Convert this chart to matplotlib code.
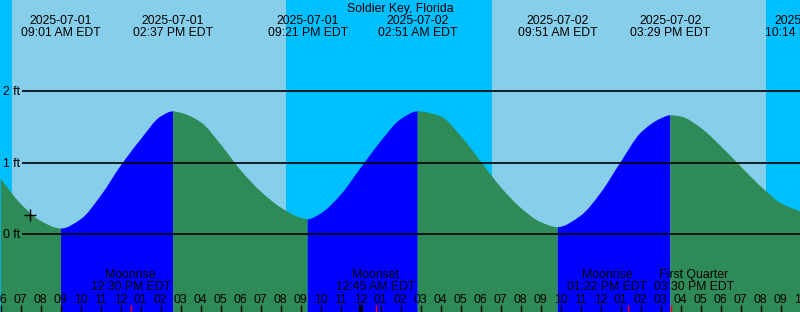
import numpy as np
import matplotlib.pyplot as plt
import matplotlib.transforms as mtransforms
from matplotlib.path import Path
from matplotlib.patches import PathPatch

plt.rcParams['font.family'] = ['Liberation Sans', 'DejaVu Sans']

title = 'Soldier Key, Florida'

# hours counted from 2025-07-01 00:00 EDT, heights in ft
hours = list(range(6, 47))
height_ft = [0.775, 0.427, 0.187, 0.081, 0.21, 0.539, 0.96, 1.328, 1.648, 1.70,
             1.57, 1.258, 0.896, 0.60, 0.375, 0.23, 0.29, 0.553, 0.93, 1.30,
             1.61, 1.71, 1.648, 1.375, 1.02, 0.66, 0.37, 0.17, 0.105, 0.26,
             0.58, 1.01, 1.42, 1.62, 1.648, 1.49, 1.234, 0.95, 0.67, 0.437,
             0.30]

# high / low tides
extreme_hours = [9.017, 14.617, 21.35, 26.85, 33.85, 39.483, 46.233]
extreme_ft = [0.08, 1.72, 0.21, 1.72, 0.10, 1.665, 0.29]
extreme_dates = ['2025-07-01', '2025-07-01', '2025-07-01', '2025-07-02',
                 '2025-07-02', '2025-07-02', '2025-07-02']
extreme_times = ['09:01 AM EDT', '02:37 PM EDT', '09:21 PM EDT', '02:51 AM EDT',
                 '09:51 AM EDT', '03:29 PM EDT', '10:14 PM EDT']

# sunrise, sunset, sunrise, sunset
sun_hours = [6.565, 20.265, 30.565, 44.265]

moon_hours = [12.5, 24.75, 37.367, 39.5]
moon_names = ['Moonrise', 'Moonset', 'Moonrise', 'First Quarter']
moon_times = ['12:30 PM EDT', '12:45 AM EDT', '01:22 PM EDT', '03:30 PM EDT']

now_hour, now_ft = 7.465, 0.274
grid_ft = [0, 1, 2]

W, H = 800, 312
x0 = 6 - 0.7 / 20
x1 = x0 + 40
y_lo, y_hi = -1.087, 3.277

fig = plt.figure(figsize=(W / 100, H / 100), dpi=100)
ax = fig.add_axes([0, 0, 1, 1])
ax.set_xlim(x0, x1)
ax.set_ylim(y_lo, y_hi)
ax.set_xticks([])
ax.set_yticks([])
for s in ax.spines.values():
    s.set_visible(False)

def py(p):
    # pixel row -> axes fraction
    return 1 - p / H

# night background, day spans
ax.axvspan(x0, x1, color='#00BFFF', lw=0)
for a, b in zip(sun_hours[0::2], sun_hours[1::2]):
    ax.axvspan(a, b, color='#87CEEB', lw=0)

# merge hourly readings with the tide extremes (drop readings close to one)
hrs = np.array(hours, dtype=float)
hts = np.array(height_ft, dtype=float)
near = np.array([np.min(np.abs(np.array(extreme_hours) - x)) < 0.3 for x in hrs])
t = np.concatenate([hrs[~near], extreme_hours])
h = np.concatenate([hts[~near], extreme_ft])
order = np.argsort(t)
t, h = t[order], h[order]

# monotone cubic slopes so the curve is smooth and flat at highs/lows
d = np.diff(h) / np.diff(t)
dt = np.diff(t)
m = np.zeros_like(h)
m[0], m[-1] = d[0], d[-1]
for k in range(1, len(h) - 1):
    if d[k - 1] * d[k] > 0:
        w1 = 2 * dt[k] + dt[k - 1]
        w2 = dt[k] + 2 * dt[k - 1]
        m[k] = (w1 + w2) / (w1 / d[k - 1] + w2 / d[k])

def tide_patch(i0, i1, color):
    verts = [(t[i0], y_lo), (t[i0], h[i0])]
    codes = [Path.MOVETO, Path.LINETO]
    for k in range(i0, i1):
        s = dt[k] / 3
        verts += [(t[k] + s, h[k] + m[k] * s),
                  (t[k + 1] - s, h[k + 1] - m[k + 1] * s),
                  (t[k + 1], h[k + 1])]
        codes += [Path.CURVE4] * 3
    verts += [(t[i1], y_lo), (t[i0], y_lo)]
    codes += [Path.LINETO, Path.CLOSEPOLY]
    ax.add_patch(PathPatch(Path(verts, codes), facecolor=color, lw=0))

# blue while rising, green while falling
idx = [0] + [int(np.argmin(np.abs(t - e))) for e in extreme_hours] + [len(t) - 1]
for i0, i1 in zip(idx[:-1], idx[1:]):
    if i1 <= i0:
        continue
    tide_patch(i0, i1, '#0000FF' if h[i1] > h[i0] else '#2E8B57')

trans_yd = mtransforms.blended_transform_factory(ax.transAxes, ax.transData)
trans_xd = mtransforms.blended_transform_factory(ax.transData, ax.transAxes)

fs = 8.8
for v in grid_ft:
    ax.hlines(v, 22 / W, 1, transform=trans_yd, color='black', lw=1.2)
    ax.text(3 / W, v - 4 / 71.5, f'{v} ft', transform=trans_yd, ha='left',
            va='baseline', fontsize=fs)

ax.plot(now_hour, now_ft, marker='+', ms=9, mew=1, color='black')

ax.text(0.5, py(12), title, transform=ax.transAxes, ha='center',
        va='baseline', fontsize=fs)
for x, dd, s in zip(extreme_hours, extreme_dates, extreme_times):
    ax.text(x, py(24), dd, transform=trans_xd, ha='center', va='baseline',
            fontsize=fs, clip_on=False)
    ax.text(x, py(36), s, transform=trans_xd, ha='center', va='baseline',
            fontsize=fs, clip_on=False)

# hour ticks and labels
for hr in hours:
    lw = 3 if hr % 24 == 0 else 1
    ax.vlines(hr, 0, py(305), transform=trans_xd, color='black', lw=lw)
    ax.text(hr, py(302.7), '%02d' % ((hr - 1) % 12 + 1), transform=trans_xd,
            ha='center', va='baseline', fontsize=fs)

# moon events, labels pushed apart where they would overlap
nudge_px = [0, 0, -21, 23]
for x, n, s, dx in zip(moon_hours, moon_names, moon_times, nudge_px):
    ax.vlines(x, 0, py(305), transform=trans_xd, color='red', lw=1)
    xl = x + dx / 20
    ax.text(xl, py(278.3), n, transform=trans_xd, ha='center', va='baseline',
            fontsize=fs)
    ax.text(xl, py(290), s, transform=trans_xd, ha='center', va='baseline',
            fontsize=fs)

fig.savefig('out.png', dpi=100)
